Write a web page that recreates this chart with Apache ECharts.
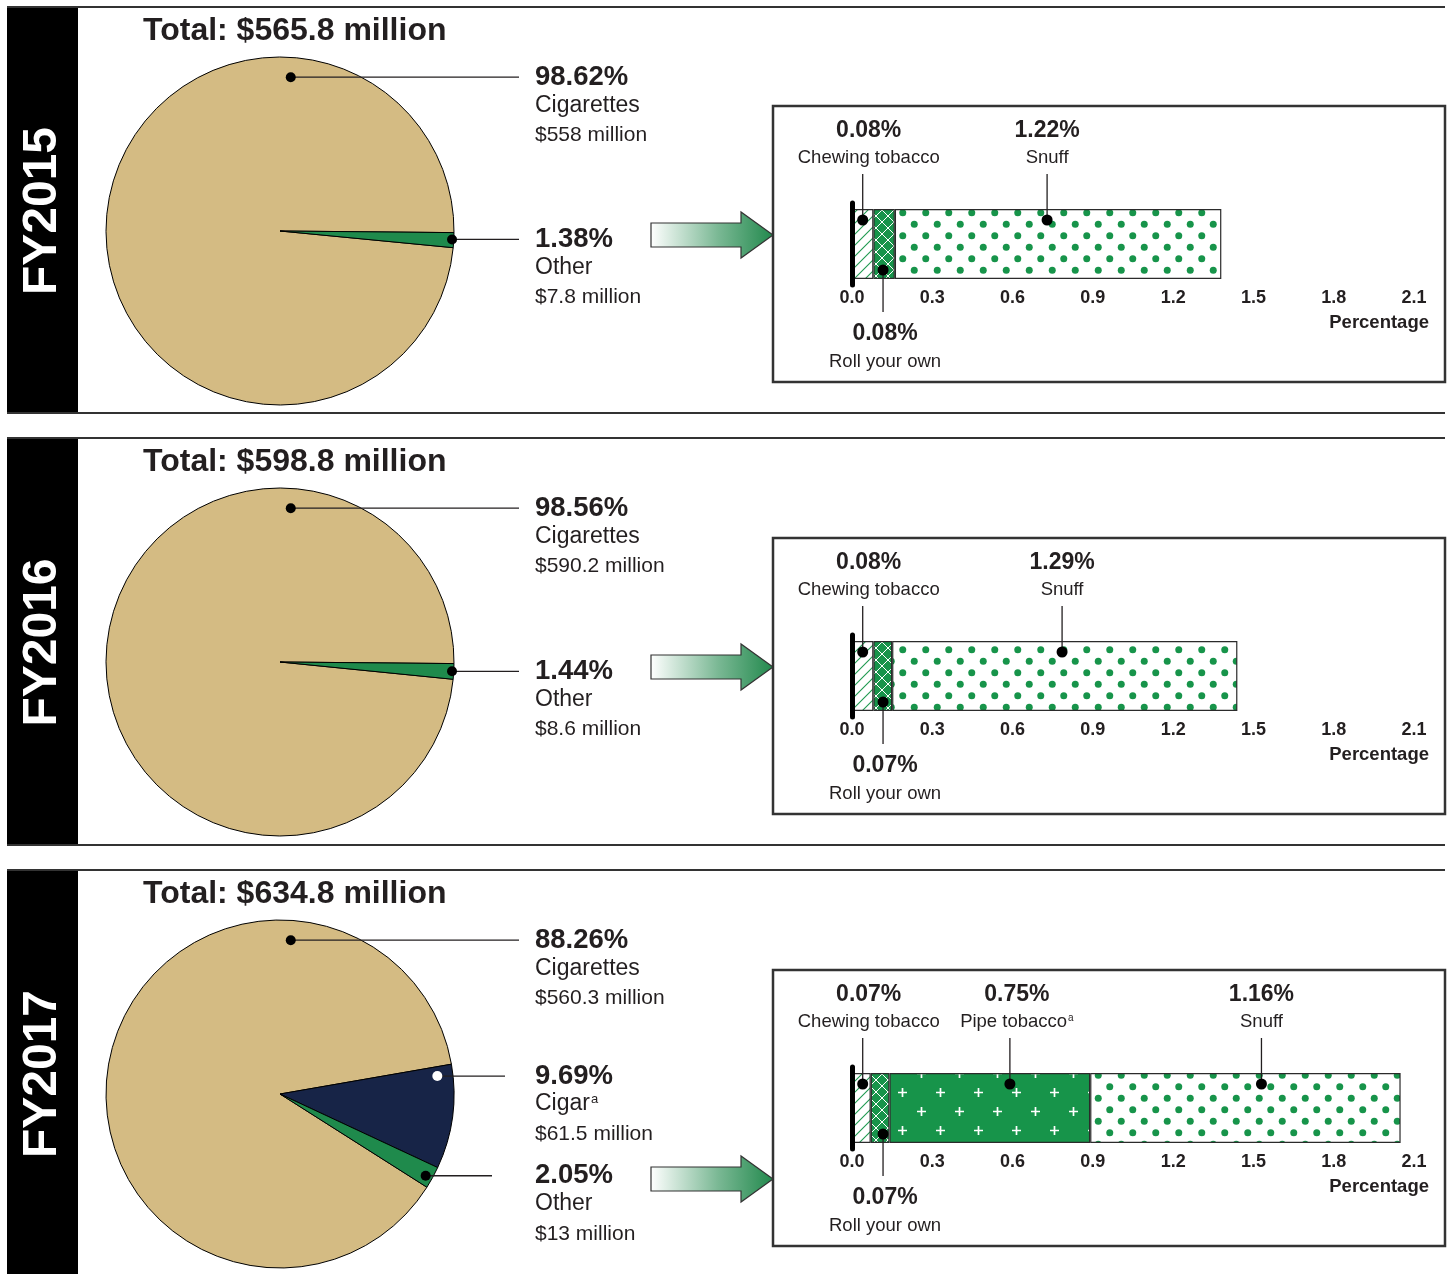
<!DOCTYPE html>
<html><head><meta charset="utf-8">
<script src="https://cdn.jsdelivr.net/npm/echarts@6/dist/echarts.min.js"></script>
<style>html,body{margin:0;padding:0;background:#fff}#c{width:1453px;height:1274px}</style>
</head><body><div id="c"></div>
<script>
// ---------------- DATA ----------------
const years = ['FY2015', 'FY2016', 'FY2017'];
const totals = ['$565.8 million', '$598.8 million', '$634.8 million'];

const pieCats2015 = ['Cigarettes', 'Other'];
const piePct2015 = [98.62, 1.38];
const pieAmt2015 = ['$558 million', '$7.8 million'];

const pieCats2016 = ['Cigarettes', 'Other'];
const piePct2016 = [98.56, 1.44];
const pieAmt2016 = ['$590.2 million', '$8.6 million'];

const pieCats2017 = ['Cigarettes', 'Cigar', 'Other'];
const piePct2017 = [88.26, 9.69, 2.05];
const pieAmt2017 = ['$560.3 million', '$61.5 million', '$13 million'];
const pieNotes2017 = ['', 'a', ''];

const barCats2015 = ['Chewing tobacco', 'Roll your own', 'Snuff'];
const barPct2015 = [0.08, 0.08, 1.22];
const barCats2016 = ['Chewing tobacco', 'Roll your own', 'Snuff'];
const barPct2016 = [0.08, 0.07, 1.29];
const barCats2017 = ['Chewing tobacco', 'Roll your own', 'Pipe tobacco', 'Snuff'];
const barPct2017 = [0.07, 0.07, 0.75, 1.16];
const barNotes2017 = ['', '', 'a', ''];

const axisMin = 0, axisMax = 2.1, axisStep = 0.3;
const axisName = 'Percentage';

// ---------------- STYLE / LAYOUT ----------------
const FONT = '"Liberation Sans", Arial, Helvetica, sans-serif';
const TXT = '#231f20';
const C_TAN = '#d4bb83', C_GREEN_PIE = '#1f8a4c', C_NAVY = '#172447', C_GREEN = '#17944a';

const panelTop = [7, 438, 870];
const panelBottom = [413, 845, 1276];
const boxTop = [106, 538, 970];
const arrowY = [235, 667, 1179];
const pieCX = 280, pieR = 174;
const pieStart = [354.5, 354.3, 327.6];

const pieSets = [
  {cats: pieCats2015, pct: piePct2015, amt: pieAmt2015, notes: ['', ''],
   ann: [{a: 86, f: 0.886, end: 519}, {a: -2.8, f: 0.99, end: 519}]},
  {cats: pieCats2016, pct: piePct2016, amt: pieAmt2016, notes: ['', ''],
   ann: [{a: 86, f: 0.886, end: 519}, {a: -3.1, f: 0.99, end: 519}]},
  {cats: pieCats2017, pct: piePct2017, amt: pieAmt2017, notes: pieNotes2017,
   ann: [{a: 86, f: 0.886, end: 519}, {a: 6.5, f: 0.91, end: 505, white: true}, {a: -29.3, f: 0.96, end: 492}]}
];
const pieColors = {Cigarettes: C_TAN, Other: C_GREEN_PIE, Cigar: C_NAVY};

function mkPattern(w, h, bg, draw) {
  const c = document.createElement('canvas');
  c.width = w; c.height = h;
  const g = c.getContext('2d');
  g.fillStyle = bg; g.fillRect(0, 0, w, h);
  draw(g, w, h);
  return {image: c, repeat: 'repeat'};
}
const patChew = mkPattern(11, 11, '#ffffff', (g, w, h) => {
  g.strokeStyle = '#1f9a50'; g.lineWidth = 1.1;
  g.beginPath();
  g.moveTo(-1, h + 1); g.lineTo(w + 1, -1);
  g.moveTo(-1, 1); g.lineTo(1, -1);
  g.moveTo(w - 1, h + 1); g.lineTo(w + 1, h - 1);
  g.stroke();
});
const patRoll = mkPattern(12, 12, C_GREEN, (g, w, h) => {
  g.strokeStyle = '#ffffff'; g.lineWidth = 1;
  g.beginPath();
  g.moveTo(0, 0); g.lineTo(w, h);
  g.moveTo(0, h); g.lineTo(w, 0);
  g.stroke();
});
const patPipe = mkPattern(38, 38, C_GREEN, (g) => {
  g.strokeStyle = '#ffffff'; g.lineWidth = 1.7;
  [[9.5, 9.5], [28.5, 28.5]].forEach(([x, y]) => {
    g.beginPath();
    g.moveTo(x - 4.5, y); g.lineTo(x + 4.5, y);
    g.moveTo(x, y - 4.5); g.lineTo(x, y + 4.5);
    g.stroke();
  });
});
const patSnuff = mkPattern(23, 23, '#ffffff', (g) => {
  g.fillStyle = C_GREEN;
  [[5.75, 5.75], [17.25, 17.25]].forEach(([x, y]) => {
    g.beginPath(); g.arc(x, y, 3.5, 0, Math.PI * 2); g.fill();
  });
});
const barPatterns = {'Chewing tobacco': patChew, 'Roll your own': patRoll, 'Pipe tobacco': patPipe, 'Snuff': patSnuff};

const barSets = [
  {cats: barCats2015, pct: barPct2015, notes: ['', '', ''],
   ann: [{side: 'top', at: 0.04, dx: 6}, {side: 'bottom', at: 0.116, dx: 2}, {side: 'top', at: 0.729, dx: 0}]},
  {cats: barCats2016, pct: barPct2016, notes: ['', '', ''],
   ann: [{side: 'top', at: 0.04, dx: 6}, {side: 'bottom', at: 0.116, dx: 2}, {side: 'top', at: 0.785, dx: 0}]},
  {cats: barCats2017, pct: barPct2017, notes: barNotes2017,
   ann: [{side: 'top', at: 0.04, dx: 6}, {side: 'bottom', at: 0.116, dx: 2}, {side: 'top', at: 0.59, dx: 7}, {side: 'top', at: 1.53, dx: 0}]}
];

// ---------------- CHART ----------------
const chart = echarts.init(document.getElementById('c'), null, {renderer: 'canvas'});

const grids = [], xAxes = [], yAxes = [], series = [];
years.forEach((yr, i) => {
  grids.push({left: 852, width: 562, top: boxTop[i] + 97, height: 82});
  xAxes.push({
    type: 'value', gridIndex: i, min: axisMin, max: axisMax, interval: axisStep,
    axisLine: {show: false}, axisTick: {show: false}, splitLine: {show: false},
    axisLabel: {margin: 4, fontSize: 18, fontWeight: 'bold', color: TXT, fontFamily: FONT,
      showMaxLabel: true, showMinLabel: true, formatter: v => v.toFixed(1)}
  });
  yAxes.push({
    type: 'category', gridIndex: i, data: [yr], z: 5,
    axisLine: {show: true, lineStyle: {color: '#000', width: 5}},
    axisTick: {show: false}, axisLabel: {show: false}, splitLine: {show: false}
  });
  const bs = barSets[i];
  bs.cats.forEach((cat, k) => {
    series.push({
      type: 'bar', name: cat, xAxisIndex: i, yAxisIndex: i, stack: 'st' + i, barWidth: 70,
      data: [bs.pct[k]], silent: true,
      itemStyle: {color: barPatterns[cat], borderColor: '#2b2b2b', borderWidth: 1.2}
    });
  });
  const ps = pieSets[i];
  series.push({
    type: 'pie', center: [pieCX, panelTop[i] + 224], radius: pieR, startAngle: pieStart[i],
    clockwise: true, silent: true, label: {show: false}, labelLine: {show: false},
    itemStyle: {borderColor: '#000', borderWidth: 1},
    data: ps.cats.map((c, k) => ({name: c, value: ps.pct[k], itemStyle: {color: pieColors[c]}}))
  });
});

chart.setOption({
  animation: false,
  textStyle: {fontFamily: FONT},
  grid: grids, xAxis: xAxes, yAxis: yAxes, series: series
});

// ---------------- ANNOTATIONS ----------------
const G = [];
function txt(x, y, text, size, bold, align, extra) {
  G.push(Object.assign({
    type: 'text', x: x, y: y, z: 20, silent: true,
    style: {text: text, fontSize: size, fontWeight: bold ? 'bold' : 'normal', fontFamily: FONT,
      fill: TXT, align: align || 'left', verticalAlign: 'middle'}
  }, extra || {}));
}
function richName(x, y, name, note, size, align) {
  if (!note) { txt(x, y, name, size, false, align); return; }
  G.push({
    type: 'text', x: x, y: y, z: 20, silent: true,
    style: {text: '{n|' + name + '}{s|' + note + '}', align: align || 'left', verticalAlign: 'middle',
      rich: {n: {fontSize: size, fontFamily: FONT, fill: TXT, color: TXT, lineHeight: size + 4},
             s: {fontSize: Math.round(size * 0.55), fontFamily: FONT, fill: TXT, color: TXT, verticalAlign: 'top', padding: [2, 0, 0, 1]}}}
  });
}
function line(x1, y1, x2, y2, w, col) {
  G.push({type: 'line', z: 18, silent: true, shape: {x1, y1, x2, y2}, style: {stroke: col || '#231f20', lineWidth: w || 1.2}});
}
function dot(x, y, r, col) {
  G.push({type: 'circle', z: 19, silent: true, shape: {cx: x, cy: y, r: r}, style: {fill: col || '#000'}});
}

years.forEach((yr, i) => {
  const t = panelTop[i], b = panelBottom[i];
  // panel frame
  G.push({type: 'rect', z: 1, silent: true, shape: {x: 7, y: t, width: 71, height: b - t}, style: {fill: '#000'}});
  line(7, t, 1445, t, 2.2, '#333');
  if (i < 2) line(7, b, 1445, b, 2.2, '#333');
  G.push({type: 'text', x: 43, y: (t + b) / 2 + 1, rotation: Math.PI / 2, z: 20, silent: true,
    style: {text: yr, fontSize: 48, fontWeight: 'bold', fontFamily: FONT, fill: '#fff', align: 'center', verticalAlign: 'middle'}});
  // title
  txt(143, t + 24, 'Total: ' + totals[i], 32, true, 'left');

  // pie annotations
  const ps = pieSets[i];
  const cy = t + 224;
  ps.ann.forEach((an, k) => {
    const ang = an.a * Math.PI / 180;
    const dx = pieCX + pieR * an.f * Math.cos(ang);
    const dy = cy - pieR * an.f * Math.sin(ang);
    line(dx, dy, an.end, dy, 1.3, '#231f20');
    dot(dx, dy, 5, an.white ? '#fff' : '#000');
    txt(535, dy, ps.pct[k].toFixed(2) + '%', 27.5, true, 'left');
    richName(535, dy + 28, ps.cats[k], ps.notes[k], 23, 'left');
    txt(535, dy + 58, ps.amt[k], 21, false, 'left');
  });

  // bar box
  G.push({type: 'rect', z: 2, silent: true, shape: {x: 773, y: boxTop[i], width: 672, height: 276},
    style: {fill: 'none', stroke: '#333', lineWidth: 2.5}});
  // arrow
  const ay = arrowY[i];
  G.push({type: 'polygon', z: 3, silent: true,
    shape: {points: [[651, ay - 12], [741, ay - 12], [741, ay - 23], [773, ay], [741, ay + 23], [741, ay + 12], [651, ay + 12]]},
    style: {fill: {type: 'linear', x: 0, y: 0, x2: 1, y2: 0,
      colorStops: [{offset: 0, color: '#ffffff'}, {offset: 0.55, color: '#7ab894'}, {offset: 1, color: '#22894d'}]},
      stroke: '#333', lineWidth: 1.2}});

  // bar annotations
  const bs = barSets[i];
  const yc = chart.convertToPixel({yAxisIndex: i}, yr);
  const bTop = yc - 35, bBot = yc + 35;
  bs.ann.forEach((an, k) => {
    const x = chart.convertToPixel({xAxisIndex: i}, an.at);
    const lx = x + an.dx;
    const label = bs.pct[k].toFixed(2) + '%';
    if (an.side === 'top') {
      line(x, bTop - 35, x, bTop + 11, 1.3);
      dot(x, bTop + 11, 5.5);
      txt(lx, bTop - 78, label, 23, true, 'center');
      richName(lx, bTop - 51, bs.cats[k], bs.notes[k], 18.5, 'center');
    } else {
      line(x, bBot - 9, x, bBot + 33, 1.3);
      dot(x, bBot - 9, 5.5);
      txt(lx, bBot + 55, label, 23, true, 'center');
      richName(lx, bBot + 83, bs.cats[k], bs.notes[k], 18.5, 'center');
    }
  });
  txt(1429, boxTop[i] + 217, axisName, 18.5, true, 'right');
});

chart.setOption({graphic: {elements: G}});
</script>
</body></html>
